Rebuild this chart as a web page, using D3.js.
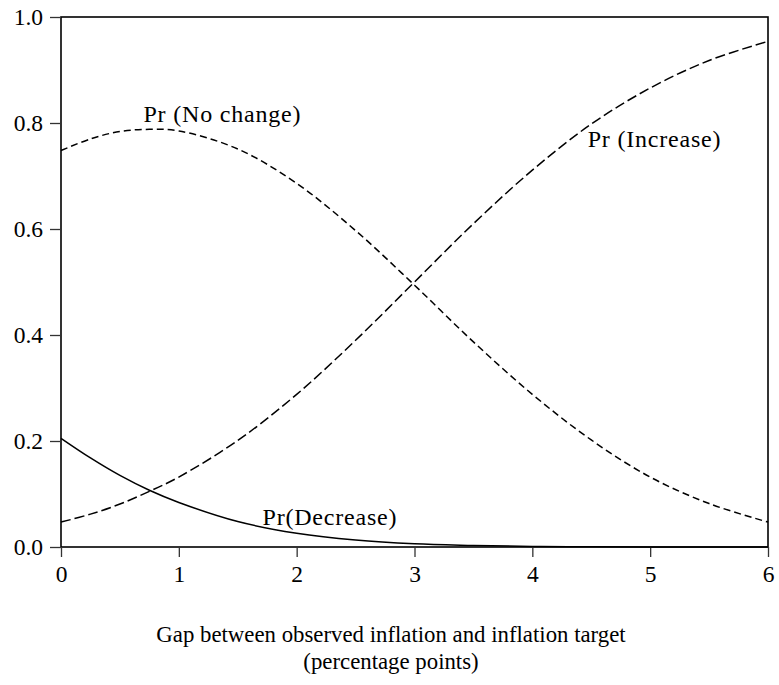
<!DOCTYPE html>
<html>
<head>
<meta charset="utf-8">
<script src="https://cdn.jsdelivr.net/npm/d3@7"></script>
<style>
  body { margin: 0; background: #fff; }
  svg text { font-family: "Liberation Serif", "Times New Roman", serif; fill: #000; }
</style>
</head>
<body>
<div id="chart"></div>
<script>
// values
var gapX       = [0, 0.25, 0.5, 0.75, 1, 1.5, 2, 2.5, 3, 3.5, 4, 4.5, 5, 5.5, 6];
var prDecrease = [0.205, 0.168, 0.135, 0.107, 0.084, 0.048, 0.026, 0.013, 0.006, 0.003, 0.001, 0.0004, 0.0002, 0.0001, 0.0];
var prNoChange = [0.748, 0.770, 0.784, 0.788, 0.785, 0.751, 0.686, 0.597, 0.494, 0.387, 0.288, 0.202, 0.132, 0.082, 0.047];
var prIncrease = [0.047, 0.062, 0.081, 0.105, 0.132, 0.201, 0.288, 0.390, 0.500, 0.610, 0.711, 0.798, 0.866, 0.918, 0.954];
var xTicks = [0, 1, 2, 3, 4, 5, 6];
var yTicks = [0, 0.2, 0.4, 0.6, 0.8, 1.0];
var labels = [
    {text: "Pr (No change)", x: 0.70, y: 0.802},
    {text: "Pr (Increase)",  x: 4.47, y: 0.755},
    {text: "Pr(Decrease)",   x: 1.71, y: 0.0415}
];

var W = 779, H = 685;
var margin = {top: 17, right: 11, bottom: 138, left: 61};
var w = W - margin.left - margin.right;
var h = H - margin.top - margin.bottom;

var svgBG = d3.select("#chart").append("svg").attr("width", W).attr("height", H);
var svg = svgBG.append("g").attr("transform", "translate(" + margin.left + "," + margin.top + ")");

var xScale = d3.scaleLinear().domain([0, 6]).range([0, w]);
var yScale = d3.scaleLinear().domain([0, 1]).range([h, 0]);

// frame
svg.append("rect")
    .attr("x", 0).attr("y", 0).attr("width", w).attr("height", h)
    .style("fill", "none").style("stroke", "#000").style("stroke-width", 1.6);

// axes
var xAxis = d3.axisBottom(xScale).tickValues(xTicks).tickSize(10).tickPadding(8)
    .tickFormat(d3.format("d"));
var gx = svg.append("g").attr("transform", "translate(0," + h + ")").call(xAxis);
var yAxis = d3.axisLeft(yScale).tickValues(yTicks).tickSize(11).tickPadding(7)
    .tickFormat(d3.format(".1f"));
var gy = svg.append("g").call(yAxis);

[gx, gy].forEach(function (g) {
    g.attr("font-family", null).attr("font-size", null);
    g.select(".domain").remove();
    g.selectAll(".tick line").style("stroke", "#333").style("stroke-width", 1.3);
    g.selectAll(".tick text")
        .style("font-family", "'Liberation Serif', serif")
        .style("font-size", "23.5px");
});
gx.selectAll(".tick text").attr("dy", "0.71em");
gy.selectAll(".tick text").attr("dy", "0.33em");

// curves
var series = [
    {values: prDecrease, dash: null},
    {values: prNoChange, dash: "7,4"},
    {values: prIncrease, dash: "10,4"}
];
var line = d3.line()
    .x(function (d, i) { return xScale(gapX[i]); })
    .y(function (d) { return yScale(d); })
    .curve(d3.curveCatmullRom.alpha(0.5));

svg.selectAll("path.curve")
    .data(series).enter().append("path")
    .attr("class", "curve")
    .attr("d", function (d) { return line(d.values); })
    .style("fill", "none")
    .style("stroke", "#000")
    .style("stroke-width", 1.5)
    .style("stroke-dasharray", function (d) { return d.dash; });

// curve labels
svg.selectAll("text.lab")
    .data(labels).enter().append("text")
    .attr("class", "lab")
    .attr("x", function (d) { return xScale(d.x); })
    .attr("y", function (d) { return yScale(d.y); })
    .style("font-size", "24px")
    .style("letter-spacing", "0.8px")
    .text(function (d) { return d.text; });

// axis title
var title = svgBG.append("text")
    .attr("x", 391).attr("y", 642)
    .attr("text-anchor", "middle")
    .style("font-size", "22.8px");
title.append("tspan").attr("x", 391).text("Gap between observed inflation and inflation target");
title.append("tspan").attr("x", 391).attr("dy", 27).text("(percentage points)");
</script>
</body>
</html>
